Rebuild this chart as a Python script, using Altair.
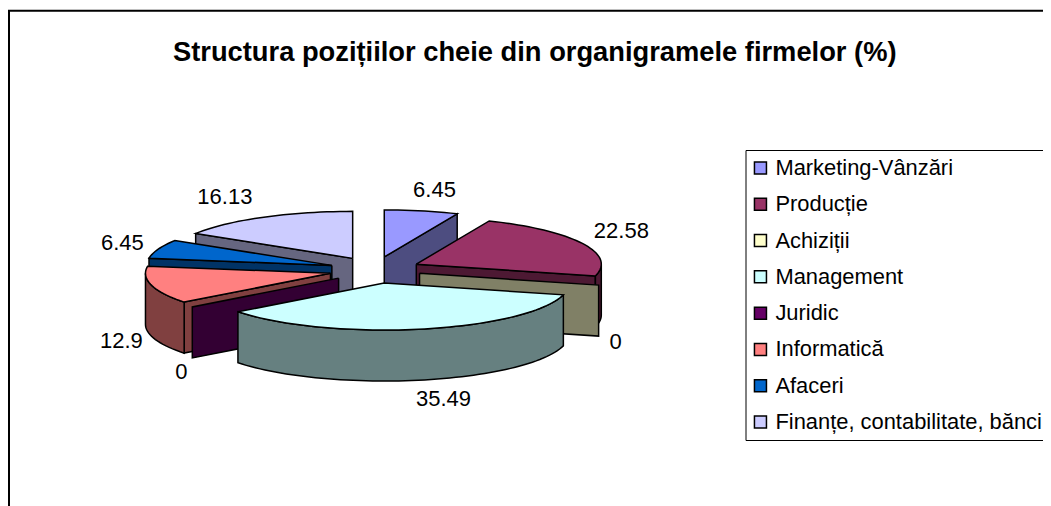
import math
import altair as alt
import pandas as pd

categories = ["Marketing-Vânzări", "Producție", "Achiziții", "Management", "Juridic",
              "Informatică", "Afaceri", "Finanțe, contabilitate, bănci"]
values = [6.45, 22.58, 0, 35.49, 0, 12.9, 6.45, 16.13]
top_colors = ["#9999FF", "#993366", "#FFFFCC", "#CCFFFF", "#660066", "#FF8080", "#0066CC", "#CCCCFF"]
side_colors = ["#4D4D80", "#4D1933", "#808066", "#668080", "#330033", "#804040", "#003366", "#666680"]
title_text = "Structura pozițiilor cheie din organigramele firmelor (%)"

# pie geometry (page pixels; the x and y scales below are identity over the page)
CX, CY, RX, RY, EX, EY, DEPTH = 375, 270, 185, 47, 46, 13.3, 51
draw_order = [7, 0, 6, 5, 4, 1, 2, 3]
label_nudges = {0: (13, -21), 1: (39, -12), 2: (17, 57), 3: (22, 70),
                4: (-11, 65), 5: (-30, 56), 6: (-36, -6), 7: (-38, -20)}

W, H = 1035, 498
xs = alt.Scale(domain=[8, 8 + W], nice=False, zero=False)
ys = alt.Scale(domain=[8 + H, 8], nice=False, zero=False)


def rim(apex, a):
    r = math.radians(a)
    return apex[0] + RX * math.sin(r), apex[1] - RY * math.cos(r)


def arc(apex, a0, a1):
    n = max(1, int(abs(a1 - a0) / 2))
    return [rim(apex, a0 + (a1 - a0) * i / n) for i in range(n + 1)]


def polygon(points, fill, width=1.5):
    pts = list(points) + [points[0]]
    df = pd.DataFrame({"x": [p[0] for p in pts], "y": [p[1] for p in pts], "i": range(len(pts))})
    return alt.Chart(df).mark_line(fill=fill, stroke="black", strokeWidth=width, strokeJoin="miter").encode(
        x=alt.X("x:Q", scale=xs, axis=None),
        y=alt.Y("y:Q", scale=ys, axis=None),
        order="i:Q",
    )


def down(points):
    return [(x, y + DEPTH) for x, y in points]


total = sum(values)
angles = []
acc = 0.0
for v in values:
    a0 = acc / total * 360
    acc += v
    angles.append((a0, acc / total * 360))

layers = []

frame = pd.DataFrame({"x": [9, 9, 8 + W], "y": [8 + H, 10.7, 10.7], "i": [0, 1, 2]})
layers.append(alt.Chart(frame).mark_line(color="black", strokeWidth=2).encode(
    x=alt.X("x:Q", scale=xs, axis=None), y=alt.Y("y:Q", scale=ys, axis=None), order="i:Q"))

text_layers = []
for k in draw_order:
    a0, a1 = angles[k]
    mid = (a0 + a1) / 2
    r = math.radians(mid)
    apex = (CX + EX * math.sin(r), CY - EY * math.cos(r))
    side, top = side_colors[k], top_colors[k]
    if 0 < a1 < 180:
        e = [apex, rim(apex, a1)]
        layers.append(polygon(e + down(e)[::-1], side))
    if 180 < a0 < 360:
        e = [apex, rim(apex, a0)]
        layers.append(polygon(e + down(e)[::-1], side))
    lo, hi = max(a0, 90), min(a1, 270)
    if hi > lo:
        e = arc(apex, lo, hi)
        layers.append(polygon(e + down(e)[::-1], side))
    if a1 > a0:
        layers.append(polygon([apex] + arc(apex, a0, a1), top))
    lx, ly = rim(apex, mid)
    dx, dy = label_nudges[k]
    tdf = pd.DataFrame({"x": [lx], "y": [ly], "t": [f"{values[k]:g}"]})
    text_layers.append(alt.Chart(tdf).mark_text(
        font="Liberation Sans", fontSize=22, color="black", align="center", baseline="middle", dx=dx, dy=dy
    ).encode(x=alt.X("x:Q", scale=xs, axis=None), y=alt.Y("y:Q", scale=ys, axis=None), text="t:N"))

legend_df = pd.DataFrame({"c": categories})
legend_layer = alt.Chart(legend_df).mark_square(size=0, opacity=1).encode(
    x=alt.value(0), y=alt.value(0),
    fill=alt.Fill("c:N", sort=categories, scale=alt.Scale(domain=categories, range=top_colors),
                  legend=alt.Legend(
                      title=None, orient="none", legendX=737.5, legendY=142, padding=7,
                      strokeColor="black", fillColor="white",
                      symbolType="square", symbolSize=144, symbolStrokeColor="black",
                      symbolStrokeWidth=1.5, symbolOpacity=1, symbolOffset=-3,
                      labelFont="Liberation Sans", labelFontSize=21.9, labelColor="black",
                      labelLimit=400, labelOffset=4, rowPadding=13.3,
                  )),
)

chart = alt.layer(*layers, *text_layers, legend_layer).properties(
    width=W, height=H, autosize=alt.AutoSizeParams(type="none"), padding=0, background="white",
    title=alt.TitleParams(title_text, font="Liberation Sans", fontSize=27.3, fontWeight="bold",
                          color="black", anchor="start", frame="group", dx=165, dy=64),
).configure_view(stroke=None)

chart.save("out.html", embed_options={"renderer": "svg", "actions": False})
